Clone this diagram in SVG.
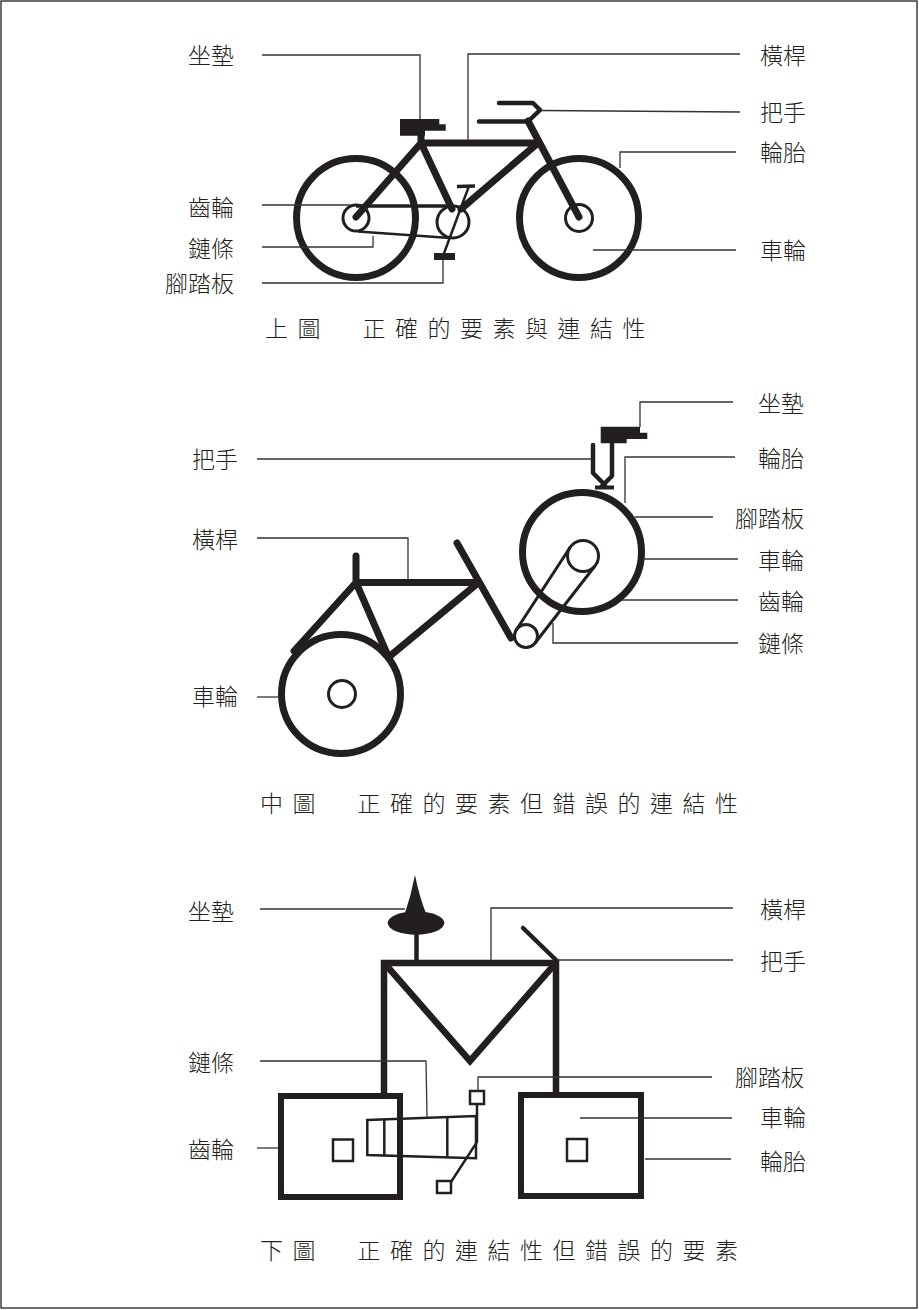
<svg xmlns="http://www.w3.org/2000/svg" width="919" height="1310" viewBox="0 0 919 1310">
<style>
.frame{fill:none;stroke:#231f20;stroke-width:1.3}
.thick{fill:none;stroke:#231f20;stroke-width:7;stroke-linecap:round;stroke-linejoin:round}
.sq{fill:none;stroke:#231f20;stroke-width:6.5;stroke-linecap:butt;stroke-linejoin:miter}
.mid{fill:none;stroke:#231f20;stroke-width:4.5;stroke-linecap:round;stroke-linejoin:round}
.thin{fill:none;stroke:#231f20;stroke-width:3}
.fine{fill:none;stroke:#231f20;stroke-width:2.5}
.fillk{fill:#231f20}
.lead{fill:none;stroke:#333;stroke-width:1.3}
.lbl{font-family:"Noto Sans CJK TC","Noto Sans CJK SC",sans-serif;font-size:23px;font-weight:300;fill:#231f20;text-anchor:end}
.cap{font-family:"Noto Sans CJK TC","Noto Sans CJK SC",sans-serif;font-size:23px;font-weight:300;letter-spacing:9.5px;fill:#231f20}
</style>
<rect x="0" y="0" width="919" height="1310" fill="#fff"/>
<rect class="frame" x="1" y="1" width="916" height="1307"/>

<!-- TOP BICYCLE -->
<g id="top-bike">
  <circle class="thick" cx="356" cy="218" r="59.5"/>
  <circle class="thick" cx="579" cy="218" r="59.5"/>
  <circle class="thin" cx="356" cy="218" r="13"/>
  <circle class="thin" cx="579" cy="218" r="13.5"/>
  <circle class="thin" cx="453" cy="222" r="16"/>
  <path class="thick" d="M421,143 L538,143 M421,143 L356,217 M421,143 L452,209 M538,143 L461,209 M528,121 L579,217 M421,143 L421,135"/>
  <path d="M356,206 L453,206" stroke="#231f20" stroke-width="3.5" fill="none"/>
  <path class="fine" d="M358,231.5 L450,238"/>
  <path class="fine" d="M469,186 L443,256"/>
  <path d="M457,186.5 L475,186" stroke="#231f20" stroke-width="3.5" fill="none"/>
  <rect class="fillk" x="434" y="253" width="21" height="7"/>
  <path class="mid" d="M479,121.5 L528,121.5 L540,110 L533,103 L499,103"/>
  <polygon class="fillk" points="400,119 439.3,119 439.3,124.3 445.7,124.3 445.7,130.7 425,130.7 425,135.7 400,135.7"/>
</g>

<!-- MIDDLE BICYCLE -->
<g id="middle-bike">
  <circle class="thick" cx="341" cy="694" r="59.5"/>
  <circle class="thin" cx="342" cy="694" r="13.5"/>
  <circle class="thick" cx="582" cy="552" r="59.5"/>
  <circle class="thin" cx="583" cy="556" r="15.5"/>
  <circle class="thin" cx="526" cy="636" r="11.5"/>
  <path class="thin" d="M595.3,565.5 L535.1,643 M570,547.5 L516.4,629.7"/>
  <path class="thick" d="M356,556 L356,582.5 L478,582.5 M356,582.5 L294,651 M356,582.5 L388,656 M478,583 L390,656 M457,543 L511,638"/>
  <polygon class="fillk" points="600.7,426.7 640,426.7 640,432.7 647.3,432.7 647.3,439 626.7,439 626.7,443.3 600.7,443.3"/>
  <path class="mid" d="M593,445 V473 L605,485 M612,443 V476 L602,486"/>
  <path d="M595,487.5 H614" stroke="#231f20" stroke-width="4" fill="none"/>
</g>

<!-- BOTTOM DIAGRAM -->
<g id="bottom-bike">
  <path class="fillk" d="M415,875 Q411,896 404,916 L427,916 Q419,896 415,875 Z"/>
  <ellipse class="fillk" cx="416" cy="923" rx="28.3" ry="11.7"/>
  <path d="M416.5,933 L416.5,962" stroke="#231f20" stroke-width="4.5" fill="none"/>
  <path class="sq" d="M384,1094 V963 H556 V1093"/>
  <path class="sq" d="M386,965 L470,1061 L554,965"/>
  <path class="mid" d="M523,928 L556,960"/>
  <rect x="281" y="1096" width="119" height="101" fill="none" stroke="#231f20" stroke-width="6"/>
  <rect x="521" y="1095" width="120" height="101" fill="none" stroke="#231f20" stroke-width="6"/>
  <rect class="fine" x="333" y="1139.5" width="20" height="21.5"/>
  <rect class="fine" x="567" y="1139" width="20" height="22"/>
  <polygon class="fine" points="367.3,1120 476,1116 476,1158.3 367.3,1155"/>
  <path class="fine" d="M384.3,1119.5 V1155.5 M447.3,1117 V1157.5"/>
  <rect class="fine" x="470" y="1091" width="14" height="13"/>
  <path class="fine" d="M477,1104 V1142 L451,1182"/>
  <rect class="fine" x="437" y="1181" width="14" height="12"/>
</g>

<!-- CONNECTORS (leader lines) -->
<g id="connectors">
  <path class="lead" d="M262,55 H420 V119"/>
  <path class="lead" d="M740,54 H468 V140"/>
  <path class="lead" d="M541,110.5 L740,112"/>
  <path class="lead" d="M736,152 H620 V168"/>
  <path class="lead" d="M593,250 H736"/>
  <path class="lead" d="M262,205 H350"/>
  <path class="lead" d="M262,247 H373 V236"/>
  <path class="lead" d="M262,283 H443 V260"/>

  <path class="lead" d="M733,402 H640 V427"/>
  <path class="lead" d="M735,457 H625 V503"/>
  <path class="lead" d="M635,517 H713"/>
  <path class="lead" d="M643,559 H738"/>
  <path class="lead" d="M622,600 H738"/>
  <path class="lead" d="M553,623 V643 H738"/>
  <path class="lead" d="M257,459 H592"/>
  <path class="lead" d="M257,538 H408 V579"/>
  <path class="lead" d="M257,697 H279"/>

  <path class="lead" d="M260,909 H405"/>
  <path class="lead" d="M733,908 H491 V960"/>
  <path class="lead" d="M558,960 H733"/>
  <path class="lead" d="M260,1061 H426 L427,1117"/>
  <path class="lead" d="M257,1148 H278"/>
  <path class="lead" d="M712,1077 H478 V1091"/>
  <path class="lead" d="M580,1118 H732"/>
  <path class="lead" d="M645,1159 H731"/>
</g>

<!-- LABELS -->
<g id="labels-top">
  <g id="t-seat"><text class="lbl" x="234" y="64">坐墊</text></g>
  <g id="t-gear"><text class="lbl" x="234" y="216">齒輪</text></g>
  <g id="t-chain"><text class="lbl" x="234" y="257">鏈條</text></g>
  <g id="t-pedal"><text class="lbl" x="234" y="292">腳踏板</text></g>
  <g id="t-bar"><text class="lbl" x="806" y="64">橫桿</text></g>
  <g id="t-handle"><text class="lbl" x="806" y="121">把手</text></g>
  <g id="t-tire"><text class="lbl" x="806" y="161">輪胎</text></g>
  <g id="t-wheel"><text class="lbl" x="806" y="259">車輪</text></g>
</g>
<g id="labels-middle">
  <g id="m-seat"><text class="lbl" x="804" y="412">坐墊</text></g>
  <g id="m-tire"><text class="lbl" x="804" y="467">輪胎</text></g>
  <g id="m-pedal"><text class="lbl" x="804" y="527">腳踏板</text></g>
  <g id="m-wheel-r"><text class="lbl" x="804" y="569">車輪</text></g>
  <g id="m-gear"><text class="lbl" x="804" y="610">齒輪</text></g>
  <g id="m-chain"><text class="lbl" x="804" y="652">鏈條</text></g>
  <g id="m-handle"><text class="lbl" x="238" y="468">把手</text></g>
  <g id="m-bar"><text class="lbl" x="238" y="548">橫桿</text></g>
  <g id="m-wheel-l"><text class="lbl" x="238" y="705">車輪</text></g>
</g>
<g id="labels-bottom">
  <g id="b-bar"><text class="lbl" x="806" y="918">橫桿</text></g>
  <g id="b-handle"><text class="lbl" x="806" y="970">把手</text></g>
  <g id="b-pedal"><text class="lbl" x="804" y="1086">腳踏板</text></g>
  <g id="b-wheel"><text class="lbl" x="806" y="1126">車輪</text></g>
  <g id="b-tire"><text class="lbl" x="806" y="1170">輪胎</text></g>
  <g id="b-seat"><text class="lbl" x="234" y="920">坐墊</text></g>
  <g id="b-chain"><text class="lbl" x="234" y="1071">鏈條</text></g>
  <g id="b-gear"><text class="lbl" x="234" y="1158">齒輪</text></g>
</g>

<!-- CAPTIONS -->
<g id="captions">
  <text class="cap" x="265" y="337">上圖　正確的要素與連結性</text>
  <text class="cap" x="260" y="812">中圖　正確的要素但錯誤的連結性</text>
  <text class="cap" x="260" y="1259">下圖　正確的連結性但錯誤的要素</text>
</g>
</svg>
